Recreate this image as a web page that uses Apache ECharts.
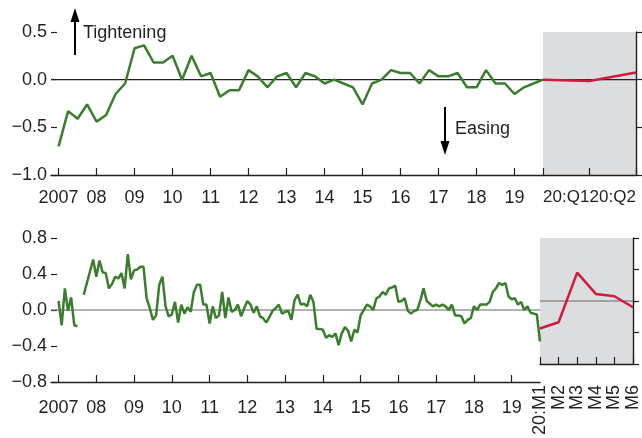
<!DOCTYPE html>
<html>
<head>
<meta charset="utf-8">
<script src="https://cdn.jsdelivr.net/npm/echarts@6/dist/echarts.min.js"></script>
<style>
  html, body { margin: 0; padding: 0; background: #fff; }
  #chart { width: 642px; height: 438px; }
</style>
</head>
<body>
<div id="chart"></div>
<script>
// top panel: quarterly, 2007:Q1 .. 2019:Q4
var quarterly = [
  -0.70, -0.33, -0.41, -0.26,
  -0.44, -0.37, -0.15, -0.04,
   0.33,  0.36,  0.18,  0.18,
   0.25,  0.00,  0.25,  0.035,
   0.07, -0.18, -0.11, -0.11,
   0.10,  0.03, -0.08,  0.035,
   0.07, -0.08,  0.07,  0.035,
  -0.04,  0.00, -0.04, -0.08,
  -0.26, -0.04,  0.00,  0.10,
   0.07,  0.07, -0.04,  0.10,
   0.035, 0.035, 0.07, -0.08,
  -0.08,  0.10, -0.04, -0.04,
  -0.15, -0.08, -0.04,  0.00
];
// 2020 part (first point joins the green line)
var quarterly2020 = [0.00, -0.015, 0.075];
var quarterLabels = ['20:Q1', '20:Q2'];

// bottom panel: monthly, by year
var m2007 = [0.10, -0.17, 0.24, -0.01, 0.14, -0.17, -0.18, null, 0.17, 0.30, 0.43, 0.56];
var m2008 = [0.37, 0.55, 0.42, 0.41, 0.24, 0.29, 0.37, 0.35, 0.41, 0.24, 0.62, 0.34];
var m2009 = [0.44, 0.45, 0.48, 0.48, 0.13, 0.02, -0.11, -0.06, 0.28, 0.37, 0.04, -0.07];
var m2010 = [-0.05, 0.09, -0.14, 0.06, -0.04, 0.03, -0.02, 0.20, 0.28, 0.28, 0.06, 0.06];
var m2011 = [-0.15, 0.04, -0.09, -0.06, 0.20, -0.09, 0.14, -0.02, 0.00, 0.06, -0.07, 0.02];
var m2012 = [0.10, 0.06, -0.03, 0.04, -0.07, -0.09, -0.14, -0.08, -0.01, 0.02, 0.06, -0.04];
var m2013 = [-0.02, -0.01, -0.11, 0.11, 0.17, 0.06, 0.07, 0.04, 0.17, 0.09, -0.21, -0.21];
var m2014 = [-0.22, -0.31, -0.28, -0.30, -0.26, -0.39, -0.26, -0.19, -0.23, -0.35, -0.22, -0.25];
var m2015 = [-0.06, 0.00, 0.06, 0.04, 0.00, 0.13, 0.15, 0.20, 0.17, 0.24, 0.25, 0.27];
var m2016 = [0.09, 0.10, 0.13, -0.01, -0.04, -0.01, 0.00, 0.11, 0.24, 0.10, 0.07, 0.04];
var m2017 = [0.06, 0.04, 0.06, 0.04, 0.00, 0.06, -0.06, -0.06, -0.07, -0.15, -0.11, -0.09];
var m2018 = [0.04, 0.00, 0.06, 0.06, 0.06, 0.09, 0.20, 0.24, 0.30, 0.28, 0.30, 0.15];
var m2019 = [0.12, 0.13, 0.06, 0.09, 0.00, 0.04, -0.03, -0.04, -0.05, -0.35];
var monthly2020 = [-0.35, -0.27, 0.36, 0.09, 0.06, -0.08];
var monthLabels = ['20:M1', 'M2', 'M3', 'M4', 'M5', 'M6'];

var years = [2007, 2008, 2009, 2010, 2011, 2012, 2013, 2014, 2015, 2016, 2017, 2018, 2019];
var yearLabels = ['2007', '08', '09', '10', '11', '12', '13', '14', '15', '16', '17', '18', '19'];

var monthly = [].concat(m2007, m2008, m2009, m2010, m2011, m2012, m2013, m2014, m2015, m2016, m2017, m2018, m2019);

var GREEN = '#3a7d2c';
var RED = '#d21a3e';
var SHADE = '#dcdddf';
var INK = '#231f20';
var FONT = "'Liberation Sans', Arial, sans-serif";
var xMin = 2006.8, xMax = 2019.75;

function fmtY(v) {
  return v.toFixed(1).replace('-', '\u2212');
}

function leftX(grid, margin) {
  return {
    gridIndex: grid, type: 'value', min: xMin, max: xMax,
    axisLine: { show: true, onZero: false, lineStyle: { color: INK, width: 1.4 } },
    axisTick: { show: true, inside: true, length: 7, customValues: years, lineStyle: { color: INK, width: 1.2 } },
    axisLabel: {
      customValues: years, margin: margin, fontSize: 18, fontFamily: FONT, color: INK,
      formatter: function (v) { return yearLabels[years.indexOf(Math.round(v))]; }
    },
    splitLine: { show: false }
  };
}

function leftY(grid, min, max, step) {
  return {
    gridIndex: grid, type: 'value', min: min, max: max, interval: step,
    axisLine: { show: false, onZero: false },
    axisTick: { show: true, inside: true, length: 6, lineStyle: { color: INK, width: 1.2 } },
    axisLabel: { margin: 4, fontSize: 18, fontFamily: FONT, color: INK, formatter: fmtY },
    splitLine: { show: false }
  };
}

function rightY(grid, min, max, step) {
  return {
    gridIndex: grid, type: 'value', position: 'right', min: min, max: max, interval: step,
    axisLine: { show: true, onZero: false, lineStyle: { color: INK, width: 1.4 } },
    axisTick: { show: true, inside: false, length: 6, lineStyle: { color: INK, width: 1.2 } },
    axisLabel: { show: false },
    splitLine: { show: false }
  };
}

// horizontal reference line at 0, spanning the axis extent
function zeroLine(xi, from, to, color) {
  return {
    type: 'line', xAxisIndex: xi, yAxisIndex: xi, z: 1, silent: true, symbol: 'none',
    lineStyle: { color: color, width: 1.2 },
    data: [[from, 0], [to, 0]]
  };
}

var chart = echarts.init(document.getElementById('chart'), null, { renderer: 'canvas' });

chart.setOption({
  animation: false,
  backgroundColor: '#fff',
  grid: [
    { left: 51, top: 32, width: 492, height: 143 },
    { left: 543, top: 32, width: 93, height: 143, show: true, backgroundColor: SHADE, borderWidth: 0 },
    { left: 51, top: 238, width: 489, height: 144 },
    { left: 540, top: 238, width: 96, height: 144, show: true, backgroundColor: SHADE, borderWidth: 0 }
  ],
  xAxis: [
    leftX(0, 14),
    {
      gridIndex: 1, type: 'value', min: 0, max: quarterly2020.length - 1,
      axisLine: { show: true, onZero: false, lineStyle: { color: INK, width: 1.4 } },
      axisTick: { show: true, inside: true, length: 7, customValues: [0, 1, 2], lineStyle: { color: INK, width: 1.2 } },
      axisLabel: {
        customValues: [0.5, 1.5], margin: 14, fontSize: 17, fontFamily: FONT, color: INK,
        showMinLabel: true, showMaxLabel: true,
        formatter: function (v) { return quarterLabels[Math.floor(v)]; }
      },
      splitLine: { show: false }
    },
    leftX(2, 17),
    {
      gridIndex: 3, type: 'value', min: 0, max: monthly2020.length - 1, interval: 1,
      axisLine: { show: true, onZero: false, lineStyle: { color: INK, width: 1.4 } },
      axisTick: { show: true, inside: true, length: 7, lineStyle: { color: INK, width: 1.2 } },
      axisLabel: {
        rotate: 90, margin: 21, fontSize: 18, fontFamily: FONT, color: INK,
        showMinLabel: true, showMaxLabel: true,
        formatter: function (v) { return monthLabels[Math.round(v)]; }
      },
      splitLine: { show: false }
    }
  ],
  yAxis: [
    leftY(0, -1, 0.5, 0.5),
    rightY(1, -1, 0.5, 0.5),
    leftY(2, -0.8, 0.8, 0.4),
    rightY(3, -0.8, 0.8, 0.4)
  ],
  series: [
    zeroLine(0, xMin, xMax, '#222'),
    zeroLine(1, 0, quarterly2020.length - 1, '#222'),
    zeroLine(2, xMin, xMax, '#666'),
    zeroLine(3, 0, monthly2020.length - 1, '#666'),
    {
      type: 'line', xAxisIndex: 0, yAxisIndex: 0, z: 3, symbol: 'none',
      lineStyle: { color: GREEN, width: 2.5 },
      data: quarterly.map(function (v, i) { return [2007 + i / 4, v]; })
    },
    {
      type: 'line', xAxisIndex: 1, yAxisIndex: 1, z: 3, symbol: 'none',
      lineStyle: { color: RED, width: 2.5 },
      data: quarterly2020.map(function (v, i) { return [i, v]; })
    },
    {
      type: 'line', xAxisIndex: 2, yAxisIndex: 2, z: 3, symbol: 'none', connectNulls: false,
      lineStyle: { color: GREEN, width: 2.5 },
      data: monthly.map(function (v, i) { return [2007 + i / 12, v]; })
    },
    {
      type: 'line', xAxisIndex: 3, yAxisIndex: 3, z: 3, symbol: 'none',
      lineStyle: { color: RED, width: 2.5 },
      data: monthly2020.map(function (v, i) { return [i, v]; })
    }
  ],
  graphic: [
    // "Tightening" arrow
    { type: 'line', shape: { x1: 75, y1: 55, x2: 75, y2: 20 }, style: { stroke: '#000', lineWidth: 2 } },
    { type: 'polygon', shape: { points: [[75, 8], [70.5, 22], [79.5, 22]] }, style: { fill: '#000' } },
    { type: 'text', style: { text: 'Tightening', x: 83, y: 33, fontSize: 18, fontFamily: FONT, fill: INK, verticalAlign: 'middle', textVerticalAlign: 'middle' } },
    // "Easing" arrow
    { type: 'line', shape: { x1: 445, y1: 107, x2: 445, y2: 143 }, style: { stroke: '#000', lineWidth: 2 } },
    { type: 'polygon', shape: { points: [[445, 155], [440.5, 141], [449.5, 141]] }, style: { fill: '#000' } },
    { type: 'text', style: { text: 'Easing', x: 455, y: 129, fontSize: 18, fontFamily: FONT, fill: INK, verticalAlign: 'middle', textVerticalAlign: 'middle' } }
  ]
});
</script>
</body>
</html>
